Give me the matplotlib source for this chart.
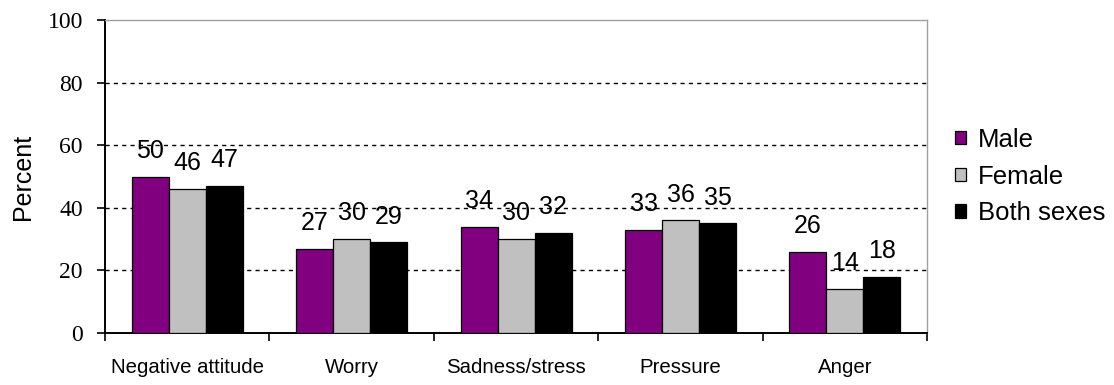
import numpy as np
import matplotlib.pyplot as plt

categories = ['Negative attitude', 'Worry', 'Sadness/stress', 'Pressure', 'Anger']
male = [50, 27, 34, 33, 26]
female = [46, 30, 30, 36, 14]
both = [47, 29, 32, 35, 18]
series = [('Male', male, '#800080'),
          ('Female', female, '#C0C0C0'),
          ('Both sexes', both, '#000000')]

sans = ['Liberation Sans', 'DejaVu Sans']
serif = ['Liberation Serif', 'DejaVu Serif']

fig = plt.figure(figsize=(11.14, 3.85), dpi=100)
ax = fig.add_axes([0.0943, 0.135, 0.738, 0.813])

x = np.arange(len(categories))
w = 0.225
for i, (name, vals, col) in enumerate(series):
    pos = x + (i - 1) * w
    ax.bar(pos, vals, width=w, color=col, edgecolor='black', linewidth=0.9,
           label=name, zorder=3)
    for px, v in zip(pos, vals):
        ax.annotate(str(v), (px, v), xytext=(0, 13.5), textcoords='offset points',
                    ha='center', va='baseline', fontsize=18, family=sans, zorder=4)

ax.set_xlim(-0.5, len(categories) - 0.5)
ax.set_ylim(0, 100)
ax.set_yticks(range(0, 101, 20))
ax.set_yticklabels([str(t) for t in range(0, 101, 20)], family=serif, fontsize=17)
for y in range(20, 100, 20):
    ax.axhline(y, color='black', linestyle=(0, (3, 3)), linewidth=1.0, zorder=1)

ax.set_xticks(np.arange(len(categories) + 1) - 0.5)
ax.set_xticklabels([])
ax.set_xticks(x, minor=True)
ax.set_xticklabels(categories, minor=True, family=sans, fontsize=14.7)
ax.tick_params(axis='x', which='minor', length=0, pad=18)
ax.tick_params(axis='x', which='major', direction='out', length=6, width=1.2)
ax.tick_params(axis='y', direction='out', length=6, width=1.2, pad=10)

ax.set_ylabel('Percent', family=sans, fontsize=18, labelpad=9)

for s in ['left', 'bottom']:
    ax.spines[s].set_linewidth(1.4)
    ax.spines[s].set_color('black')
for s in ['top', 'right']:
    ax.spines[s].set_linewidth(1.0)
    ax.spines[s].set_color('#A0A0A0')

leg = ax.legend(loc='center left', bbox_to_anchor=(1.034, 0.50), frameon=False,
                prop={'family': sans, 'size': 18.5}, handlelength=0.43,
                handleheight=0.43, handletextpad=0.45, labelspacing=0.5,
                borderaxespad=0, borderpad=0)

fig.savefig('out.png', dpi=100)
